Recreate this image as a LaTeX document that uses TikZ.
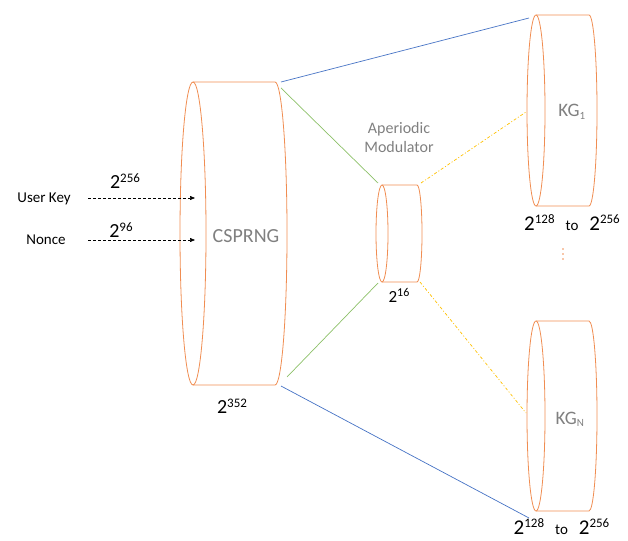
\documentclass[tikz,border=0pt]{standalone}
\usepackage{fontspec}
\setmainfont{Carlito}
\usetikzlibrary{arrows.meta}

\definecolor{cylorange}{HTML}{F08D52}
\definecolor{linkblue}{HTML}{4472C4}
\definecolor{linkgreen}{HTML}{8CC068}
\definecolor{linkyellow}{HTML}{FFC000}
\definecolor{softgray}{HTML}{808080}

% power of two with a raised exponent
\newcommand{\powtwo}[3]{{\fontsize{#1}{#1}\selectfont 2\raisebox{0.3em}{\fontsize{#2}{#2}\selectfont #3}}}

\begin{document}
\begin{tikzpicture}[x=1pt, y=-1pt,
    cyl/.style={draw=cylorange, line width=0.8pt},
    bluelink/.style={draw=linkblue, line width=0.7pt},
    greenlink/.style={draw=linkgreen, line width=0.7pt},
    yellowlink/.style={draw=linkyellow, line width=0.7pt, dash pattern=on 3pt off 2pt on 1pt off 2pt},
    inarrow/.style={-{Triangle[length=5pt,width=4pt]}, dash pattern=on 3pt off 2pt, line width=0.6pt},
    txt/.style={inner sep=0pt, anchor=base},
    graytxt/.style={txt, text=softgray}]

    \useasboundingbox (0,0) rectangle (628,540);

    % CSPRNG cylinder
    \draw[cyl] (193,233.5) ellipse [x radius=13pt, y radius=151.5pt];
    \draw[cyl] (193,82) -- (275,82) arc[start angle=90, end angle=-90, x radius=12pt, y radius=151.5pt] -- (193,385);
    \node[graytxt, font=\fontsize{20}{24}\selectfont] (csprng) at (246,242) {CSPRNG};
    \node[txt] (cssize) at (232,413) {\powtwo{20}{13}{352}};

    % Aperiodic modulator cylinder
    \draw[cyl] (382,233.5) ellipse [x radius=6pt, y radius=48.5pt];
    \draw[cyl] (382,185) -- (417,185) arc[start angle=90, end angle=-90, x radius=5pt, y radius=48.5pt] -- (382,282);
    \node[graytxt, anchor=center, align=center, font=\fontsize{16}{19}\selectfont] (modname) at (399,138) {Aperiodic\\Modulator};
    \node[txt] (modsize) at (399,302) {\powtwo{17}{12}{16}};

    % KG_1 cylinder
    \draw[cyl] (536,110.5) ellipse [x radius=9pt, y radius=95.5pt];
    \draw[cyl] (536,15) -- (589,15) arc[start angle=90, end angle=-90, x radius=8pt, y radius=95.5pt] -- (536,206);
    \node[graytxt, font=\fontsize{19}{22}\selectfont] (kgone) at (572,117) {KG\textsubscript{\fontsize{11}{11}\selectfont 1}};
    \node[txt] (kgonesize) at (572,230) {\powtwo{21}{13}{128}\hspace{11pt}{\fontsize{15}{15}\selectfont to}\hspace{11pt}\powtwo{21}{13}{256}};

    % dots between the key generators
    \foreach \y in {249,254,259}
        \fill[cylorange] (563,\y) circle (0.9pt);

    % KG_N cylinder
    \draw[cyl] (536,416) ellipse [x radius=9pt, y radius=95pt];
    \draw[cyl] (536,321) -- (589,321) arc[start angle=90, end angle=-90, x radius=8pt, y radius=95pt] -- (536,511);
    \node[graytxt, font=\fontsize{19}{22}\selectfont] (kgn) at (570,424) {KG\textsubscript{\fontsize{11}{11}\selectfont N}};
    \node[txt] (kgnsize) at (561.5,534) {\powtwo{21}{13}{128}\hspace{11pt}{\fontsize{15}{15}\selectfont to}\hspace{11pt}\powtwo{21}{13}{256}};

    % inputs
    \node[txt, font=\fontsize{15}{18}\selectfont] (ukey) at (44,202) {User Key};
    \node[txt, font=\fontsize{15}{18}\selectfont] (nonce) at (46,244) {Nonce};
    \node[txt] (keysize) at (125,188) {\powtwo{20}{13}{256}};
    \node[txt] (noncesize) at (121,237) {\powtwo{20}{13}{96}};
    \coordinate (keyin) at (88,198);
    \coordinate (keyend) at (195,198);
    \coordinate (noncein) at (88,240);
    \coordinate (nonceend) at (195,240);
    \draw[inarrow] (keyin) -- (keyend);
    \draw[inarrow] (noncein) -- (nonceend);

    % connection points
    \coordinate (cs-top) at (281,82);
    \coordinate (cs-topg) at (281,88);
    \coordinate (cs-bot) at (281,386);
    \coordinate (cs-botg) at (287,377);
    \coordinate (mod-tl) at (378,183);
    \coordinate (mod-bl) at (378,283);
    \coordinate (mod-tr) at (421,183);
    \coordinate (mod-br) at (420,282);
    \coordinate (kgone-top) at (529,18);
    \coordinate (kgone-mid) at (526,112);
    \coordinate (kgn-mid) at (526,413);
    \coordinate (kgn-bot) at (529,518);

    % links
    \draw[bluelink] (cs-top) -- (kgone-top);
    \draw[bluelink] (cs-bot) -- (kgn-bot);
    \draw[greenlink] (cs-topg) -- (mod-tl);
    \draw[greenlink] (cs-botg) -- (mod-bl);
    \draw[yellowlink] (mod-tr) -- (kgone-mid);
    \draw[yellowlink] (mod-br) -- (kgn-mid);

\end{tikzpicture}
\end{document}
